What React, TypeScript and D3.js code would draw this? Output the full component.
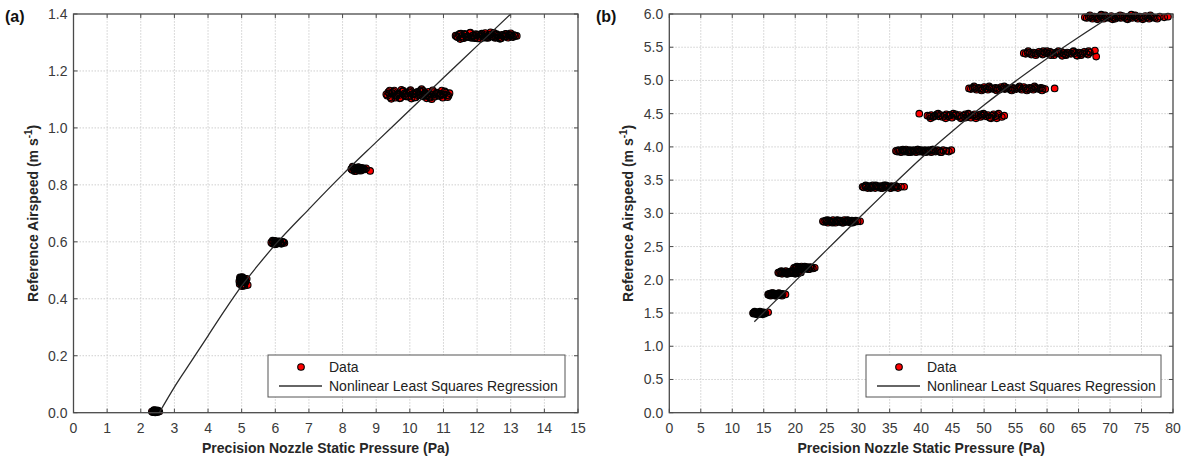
import React from "react";
import * as d3 from "d3";

const FONT = "'Liberation Sans', Arial, Helvetica, sans-serif";

// ---------- Panel (a) ----------
const aXTicks = [0, 1, 2, 3, 4, 5, 6, 7, 8, 9, 10, 11, 12, 13, 14, 15];
const aYTicks = [0, 0.2, 0.4, 0.6, 0.8, 1.0, 1.2, 1.4];

const a1X = [2.33, 2.36, 2.38, 2.40, 2.42, 2.44, 2.46, 2.48, 2.50, 2.52, 2.39, 2.43, 2.47, 2.45, 2.55];
const a1Y = [0.004, 0.002, 0.006, 0.003, 0.008, 0.004, 0.006, 0.002, 0.005, 0.007, 0.009, 0.001, 0.008, 0.005, 0.004];
const a2X = [4.93, 4.95, 4.97, 4.99, 5.01, 5.03, 5.05, 5.07, 5.09, 4.94, 4.98, 5.02, 5.06, 5.10, 4.96, 5.00, 5.04, 5.08, 5.12, 4.95, 5.01, 5.05, 5.11, 5.18, 5.15];
const a2Y = [0.462, 0.470, 0.455, 0.474, 0.460, 0.448, 0.466, 0.472, 0.458, 0.452, 0.465, 0.476, 0.450, 0.462, 0.468, 0.456, 0.470, 0.446, 0.460, 0.475, 0.444, 0.458, 0.466, 0.448, 0.470];
const a3X = [5.88, 5.91, 5.94, 5.97, 6.00, 6.03, 6.06, 6.09, 6.12, 6.15, 6.18, 6.21, 5.92, 5.98, 6.04, 6.10, 6.16, 6.24, 6.27, 6.01];
const a3Y = [0.598, 0.594, 0.601, 0.596, 0.603, 0.592, 0.599, 0.595, 0.602, 0.597, 0.593, 0.600, 0.604, 0.591, 0.597, 0.601, 0.595, 0.599, 0.596, 0.593];
const a4X = [8.26, 8.29, 8.32, 8.35, 8.38, 8.41, 8.44, 8.47, 8.50, 8.53, 8.56, 8.59, 8.62, 8.30, 8.36, 8.42, 8.48, 8.54, 8.60, 8.66, 8.34, 8.46, 8.58, 8.70, 8.82];
const a4Y = [0.856, 0.852, 0.860, 0.854, 0.858, 0.849, 0.857, 0.862, 0.851, 0.856, 0.860, 0.853, 0.858, 0.864, 0.848, 0.855, 0.861, 0.850, 0.857, 0.854, 0.859, 0.853, 0.856, 0.858, 0.849];
const a5X = [9.30, 9.36, 9.42, 9.48, 9.54, 9.60, 9.66, 9.72, 9.78, 9.84, 9.90, 9.96, 10.02, 10.08, 10.14, 10.20, 10.26, 10.32, 10.38, 10.44, 10.50, 10.56, 10.62, 10.68, 10.74, 10.80, 10.86, 10.92, 10.98, 11.04, 11.10, 11.18, 9.45, 9.75, 10.05, 10.35, 10.65, 10.95, 9.62, 9.92, 10.22, 10.52, 10.82, 11.12, 10.40];
const a5Y = [1.118, 1.126, 1.108, 1.122, 1.131, 1.112, 1.120, 1.105, 1.128, 1.116, 1.123, 1.110, 1.133, 1.119, 1.107, 1.125, 1.114, 1.129, 1.111, 1.121, 1.104, 1.127, 1.117, 1.132, 1.109, 1.124, 1.113, 1.120, 1.106, 1.128, 1.115, 1.122, 1.102, 1.134, 1.103, 1.136, 1.101, 1.131, 1.118, 1.110, 1.126, 1.114, 1.121, 1.108, 1.130];
const a5bX = [9.33, 9.39, 9.51, 9.57, 9.69, 9.81, 9.87, 9.99, 10.11, 10.17, 10.29, 10.41, 10.47, 10.59, 10.71, 10.77, 10.89, 11.01, 11.07, 11.15, 9.40, 9.70, 10.00, 10.30, 10.60, 10.90, 9.55, 9.85, 10.15, 10.45];
const a5bY = [1.113, 1.121, 1.127, 1.106, 1.116, 1.130, 1.111, 1.124, 1.118, 1.107, 1.129, 1.115, 1.122, 1.109, 1.126, 1.119, 1.112, 1.117, 1.124, 1.113, 1.131, 1.104, 1.129, 1.116, 1.106, 1.118, 1.115, 1.122, 1.120, 1.112];
const a6X = [11.36, 11.42, 11.48, 11.54, 11.60, 11.66, 11.72, 11.78, 11.84, 11.90, 11.96, 12.02, 12.08, 12.14, 12.20, 12.26, 12.32, 12.38, 12.44, 12.50, 12.56, 12.62, 12.68, 12.74, 12.80, 12.86, 12.92, 12.98, 13.04, 13.10, 13.18, 11.50, 11.80, 12.10, 12.40, 12.70, 13.00, 11.64, 11.94, 12.24, 12.54, 12.84, 11.70, 12.30, 12.60];
const a6Y = [1.324, 1.318, 1.330, 1.322, 1.315, 1.327, 1.320, 1.333, 1.317, 1.325, 1.329, 1.314, 1.323, 1.331, 1.319, 1.326, 1.316, 1.328, 1.321, 1.334, 1.318, 1.324, 1.313, 1.327, 1.322, 1.330, 1.317, 1.325, 1.320, 1.326, 1.323, 1.312, 1.335, 1.313, 1.336, 1.314, 1.332, 1.328, 1.319, 1.333, 1.316, 1.329, 1.321, 1.318, 1.327];
const a6bX = [11.39, 11.45, 11.57, 11.63, 11.75, 11.87, 11.93, 12.05, 12.17, 12.23, 12.35, 12.47, 12.53, 12.65, 12.77, 12.83, 12.95, 13.07, 13.13, 11.52, 11.82, 12.12, 12.42, 12.72, 13.02, 11.68, 11.98, 12.28, 12.58, 12.88];
const a6bY = [1.321, 1.327, 1.316, 1.330, 1.319, 1.324, 1.315, 1.328, 1.322, 1.317, 1.326, 1.320, 1.329, 1.318, 1.325, 1.321, 1.327, 1.319, 1.323, 1.331, 1.317, 1.328, 1.322, 1.316, 1.325, 1.320, 1.326, 1.318, 1.329, 1.321];

// regression curve (a)
const aFitX = [2.55, 3.0, 3.5, 4.0, 4.5, 5.0, 5.5, 6.0, 7.0, 8.0, 9.0, 10.0, 11.0, 12.0, 13.0];
const aFitY = [0.0, 0.09, 0.18, 0.27, 0.36, 0.445, 0.52, 0.59, 0.715, 0.836, 0.95, 1.063, 1.176, 1.288, 1.4];

// ---------- Panel (b) ----------
const bXTicks = [0, 5, 10, 15, 20, 25, 30, 35, 40, 45, 50, 55, 60, 65, 70, 75, 80];
const bYTicks = [0, 0.5, 1.0, 1.5, 2.0, 2.5, 3.0, 3.5, 4.0, 4.5, 5.0, 5.5, 6.0];

const b1X = [13.3, 13.4, 13.5, 13.6, 13.7, 13.8, 13.9, 14.0, 14.1, 14.2, 14.3, 14.4, 14.5, 14.6, 14.7, 14.8, 14.9, 15.0, 15.1, 13.55, 13.95, 14.35, 14.75, 15.25, 15.7];
const b1Y = [1.50, 1.49, 1.51, 1.50, 1.49, 1.51, 1.50, 1.48, 1.51, 1.49, 1.50, 1.52, 1.49, 1.50, 1.51, 1.48, 1.50, 1.51, 1.49, 1.52, 1.48, 1.51, 1.49, 1.50, 1.51];
const b2X = [15.7, 15.8, 15.9, 16.0, 16.1, 16.2, 16.3, 16.4, 16.5, 16.6, 16.7, 16.8, 16.9, 17.0, 17.1, 17.2, 17.3, 17.4, 17.5, 17.6, 17.7, 17.8, 17.9, 18.0, 16.25, 16.85, 17.45, 18.45];
const b2Y = [1.78, 1.77, 1.79, 1.78, 1.76, 1.79, 1.78, 1.77, 1.80, 1.78, 1.77, 1.79, 1.78, 1.76, 1.79, 1.78, 1.77, 1.80, 1.78, 1.77, 1.79, 1.78, 1.76, 1.79, 1.80, 1.76, 1.78, 1.78];
const b3X = [17.3, 17.45, 17.6, 17.75, 17.9, 18.05, 18.2, 18.35, 18.5, 18.65, 18.8, 18.95, 19.1, 19.25, 19.4, 19.55, 19.7, 19.85, 20.0, 20.15, 20.3, 20.5, 20.7, 17.8, 18.6, 19.3, 20.1, 20.9];
const b3Y = [2.11, 2.10, 2.12, 2.11, 2.09, 2.12, 2.11, 2.10, 2.13, 2.11, 2.09, 2.12, 2.10, 2.11, 2.13, 2.10, 2.12, 2.11, 2.09, 2.12, 2.11, 2.10, 2.12, 2.13, 2.09, 2.12, 2.10, 2.11];
const b4X = [19.8, 19.95, 20.1, 20.25, 20.4, 20.55, 20.7, 20.85, 21.0, 21.15, 21.3, 21.45, 21.6, 21.75, 21.9, 22.05, 22.2, 22.4, 22.6, 22.8, 20.3, 20.9, 21.5, 22.1, 23.1];
const b4Y = [2.18, 2.17, 2.19, 2.18, 2.16, 2.19, 2.18, 2.17, 2.20, 2.18, 2.16, 2.19, 2.18, 2.17, 2.19, 2.18, 2.16, 2.19, 2.18, 2.17, 2.20, 2.16, 2.20, 2.16, 2.18];
const b5X = [24.4, 24.6, 24.8, 25.0, 25.2, 25.4, 25.6, 25.8, 26.0, 26.2, 26.4, 26.6, 26.8, 27.0, 27.2, 27.4, 27.6, 27.8, 28.0, 28.2, 28.4, 28.6, 28.8, 29.0, 29.2, 29.4, 29.6, 25.1, 25.9, 26.7, 27.5, 28.3, 29.1, 29.9, 30.3];
const b5Y = [2.88, 2.87, 2.89, 2.88, 2.86, 2.89, 2.88, 2.87, 2.90, 2.88, 2.86, 2.89, 2.88, 2.87, 2.89, 2.88, 2.86, 2.90, 2.88, 2.87, 2.89, 2.88, 2.86, 2.89, 2.88, 2.87, 2.89, 2.90, 2.86, 2.90, 2.86, 2.90, 2.86, 2.88, 2.88];
const b6X = [30.7, 30.9, 31.1, 31.3, 31.5, 31.7, 31.9, 32.1, 32.3, 32.5, 32.7, 32.9, 33.1, 33.3, 33.5, 33.7, 33.9, 34.1, 34.3, 34.5, 34.7, 34.9, 35.1, 35.3, 35.5, 35.7, 35.9, 36.1, 36.3, 31.2, 32.0, 32.8, 33.6, 34.4, 35.2, 36.0, 36.8, 37.3];
const b6Y = [3.40, 3.39, 3.41, 3.40, 3.38, 3.41, 3.40, 3.39, 3.42, 3.40, 3.38, 3.41, 3.40, 3.39, 3.41, 3.40, 3.38, 3.42, 3.40, 3.39, 3.41, 3.40, 3.38, 3.41, 3.40, 3.39, 3.41, 3.40, 3.38, 3.42, 3.38, 3.42, 3.38, 3.42, 3.38, 3.41, 3.40, 3.40];
const b7X = [36.0, 36.2, 36.4, 36.6, 36.8, 37.0, 37.2, 37.4, 37.6, 37.8, 38.0, 38.2, 38.4, 38.6, 38.8, 39.0, 39.2, 39.4, 39.6, 39.8, 40.0, 40.2, 40.4, 40.6, 40.8, 41.0, 41.2, 41.4, 41.6, 41.8, 42.0, 42.3, 42.6, 42.9, 43.2, 43.5, 37.1, 38.3, 39.5, 40.7, 41.9, 43.1, 44.0, 44.4, 44.8];
const b7Y = [3.94, 3.93, 3.95, 3.94, 3.92, 3.95, 3.94, 3.93, 3.96, 3.94, 3.92, 3.95, 3.94, 3.93, 3.95, 3.94, 3.92, 3.96, 3.94, 3.93, 3.95, 3.94, 3.92, 3.95, 3.94, 3.93, 3.95, 3.94, 3.92, 3.96, 3.94, 3.93, 3.95, 3.94, 3.92, 3.95, 3.96, 3.92, 3.96, 3.92, 3.96, 3.92, 3.94, 3.93, 3.95];
const b8X = [39.7, 41.0, 41.3, 41.6, 41.9, 42.2, 42.5, 42.8, 43.1, 43.4, 43.7, 44.0, 44.3, 44.6, 44.9, 45.2, 45.5, 45.8, 46.1, 46.4, 46.7, 47.0, 47.3, 47.6, 47.9, 48.2, 48.5, 48.8, 49.1, 49.4, 49.7, 50.0, 50.3, 50.6, 50.9, 51.2, 51.5, 51.8, 52.1, 41.5, 42.7, 43.9, 45.1, 46.3, 47.5, 48.7, 49.9, 51.1, 52.3, 52.8, 53.2, 42.0, 44.5, 47.0, 49.5, 52.0];
const b8Y = [4.50, 4.47, 4.46, 4.48, 4.45, 4.47, 4.49, 4.46, 4.48, 4.45, 4.47, 4.49, 4.46, 4.48, 4.44, 4.47, 4.49, 4.46, 4.48, 4.45, 4.47, 4.49, 4.46, 4.48, 4.44, 4.47, 4.49, 4.46, 4.48, 4.45, 4.47, 4.49, 4.46, 4.48, 4.44, 4.47, 4.49, 4.46, 4.48, 4.43, 4.50, 4.43, 4.50, 4.43, 4.50, 4.43, 4.50, 4.43, 4.50, 4.45, 4.47, 4.46, 4.48, 4.44, 4.49, 4.43];
const b9X = [47.6, 47.9, 48.2, 48.5, 48.8, 49.1, 49.4, 49.7, 50.0, 50.3, 50.6, 50.9, 51.2, 51.5, 51.8, 52.1, 52.4, 52.7, 53.0, 53.3, 53.6, 53.9, 54.2, 54.5, 54.8, 55.1, 55.4, 55.7, 56.0, 56.3, 56.6, 56.9, 57.2, 57.5, 57.8, 58.1, 58.4, 58.7, 59.0, 59.3, 59.7, 48.4, 49.6, 50.8, 52.0, 53.2, 54.4, 55.6, 56.8, 58.0, 59.2, 61.2];
const b9Y = [4.88, 4.87, 4.89, 4.88, 4.86, 4.89, 4.88, 4.87, 4.90, 4.88, 4.86, 4.89, 4.88, 4.87, 4.89, 4.88, 4.86, 4.90, 4.88, 4.87, 4.89, 4.88, 4.86, 4.89, 4.88, 4.87, 4.89, 4.88, 4.86, 4.90, 4.88, 4.87, 4.89, 4.88, 4.86, 4.89, 4.88, 4.87, 4.89, 4.88, 4.87, 4.91, 4.85, 4.91, 4.85, 4.91, 4.85, 4.91, 4.85, 4.91, 4.85, 4.88];
const b10X = [56.3, 56.6, 56.9, 57.2, 57.5, 57.8, 58.1, 58.4, 58.7, 59.0, 59.3, 59.6, 59.9, 60.2, 60.5, 60.8, 61.1, 61.4, 61.7, 62.0, 62.3, 62.6, 62.9, 63.2, 63.5, 63.8, 64.1, 64.4, 64.7, 65.0, 65.3, 65.6, 65.9, 66.2, 66.5, 66.8, 57.0, 58.2, 59.4, 60.6, 61.8, 63.0, 64.2, 65.4, 66.6, 67.6, 67.8, 62.4, 64.8, 60.0];
const b10Y = [5.41, 5.40, 5.42, 5.41, 5.39, 5.42, 5.41, 5.40, 5.43, 5.41, 5.39, 5.42, 5.41, 5.40, 5.43, 5.41, 5.38, 5.42, 5.41, 5.40, 5.43, 5.41, 5.39, 5.42, 5.41, 5.40, 5.43, 5.41, 5.38, 5.42, 5.41, 5.40, 5.43, 5.41, 5.39, 5.42, 5.44, 5.38, 5.44, 5.38, 5.44, 5.38, 5.44, 5.38, 5.44, 5.45, 5.36, 5.37, 5.37, 5.44];
const b11X = [66.0, 66.3, 66.6, 66.9, 67.2, 67.5, 67.8, 68.1, 68.4, 68.7, 69.0, 69.3, 69.6, 69.9, 70.2, 70.5, 70.8, 71.1, 71.4, 71.7, 72.0, 72.3, 72.6, 72.9, 73.2, 73.5, 73.8, 74.1, 74.4, 74.7, 75.0, 75.3, 75.6, 75.9, 76.2, 76.5, 76.8, 77.1, 66.8, 68.0, 69.2, 70.4, 71.6, 72.8, 74.0, 75.2, 76.4, 77.5, 77.9, 78.6, 79.2, 68.6, 73.4];
const b11Y = [5.95, 5.94, 5.96, 5.95, 5.93, 5.96, 5.95, 5.94, 5.97, 5.95, 5.93, 5.96, 5.95, 5.94, 5.97, 5.95, 5.93, 5.96, 5.95, 5.94, 5.97, 5.95, 5.93, 5.96, 5.95, 5.94, 5.97, 5.95, 5.93, 5.96, 5.95, 5.94, 5.97, 5.95, 5.93, 5.96, 5.95, 5.94, 5.98, 5.92, 5.98, 5.92, 5.98, 5.92, 5.98, 5.92, 5.98, 5.93, 5.96, 5.95, 5.96, 5.99, 5.99];

// regression curve (b)
const bFitX = [13.5, 15, 18, 20, 25, 30, 35, 40, 45, 50, 55, 60, 65, 70.7];
const bFitY = [1.37, 1.51, 1.79, 1.98, 2.45, 2.92, 3.38, 3.83, 4.24, 4.63, 4.99, 5.33, 5.65, 6.0];

const legendLabels = ["Data", "Nonlinear Least Squares Regression"];
const xTitle = "Precision Nozzle Static Pressure (Pa)";

type Cl = [number[], number[]];

function zip(c: Cl): [number, number][] {
  const n = Math.min(c[0].length, c[1].length);
  const out: [number, number][] = [];
  for (let i = 0; i < n; i++) out.push([c[0][i], c[1][i]]);
  return out;
}

type PanelProps = {
  id: string;
  tag: string;
  tagX: number;
  xDomain: [number, number];
  yDomain: [number, number];
  xRange: [number, number];
  yRange: [number, number];
  xTicks: number[];
  yTicks: number[];
  clusters: Cl[];
  fit: Cl;
  legendX: number;
  legendW: number;
};

const AX = "#4a4a4a";
const TXT = "#3a3a3a";
const R = 3.3;

function Panel(p: PanelProps) {
  const x = d3.scaleLinear().domain(p.xDomain).range(p.xRange);
  const y = d3.scaleLinear().domain(p.yDomain).range(p.yRange);
  const [x0, x1] = p.xRange;
  const [yb, yt] = p.yRange;
  const line = d3
    .line<[number, number]>()
    .x((d) => x(d[0]))
    .y((d) => y(d[1]))
    .curve(d3.curveMonotoneX);
  const pts = p.clusters.flatMap(zip);
  const tl = 4;
  const cx = (x0 + x1) / 2;
  const cy = (yb + yt) / 2;
  const lx = p.legendX;
  const ly = 355;
  return (
    <g>
      <defs>
        <clipPath id={p.id}>
          <rect x={x0} y={yt} width={x1 - x0} height={yb - yt} />
        </clipPath>
      </defs>
      <rect x={x0} y={yt} width={x1 - x0} height={yb - yt} fill="#fff" />
      {/* grid */}
      {p.xTicks.slice(1, -1).map((t) => (
        <line key={"gx" + t} x1={x(t)} x2={x(t)} y1={yb} y2={yt} stroke="#cfcfcf" strokeWidth={1} strokeDasharray="1.5,1.5" />
      ))}
      {p.yTicks.slice(1, -1).map((t) => (
        <line key={"gy" + t} x1={x0} x2={x1} y1={y(t)} y2={y(t)} stroke="#cfcfcf" strokeWidth={1} strokeDasharray="1.5,1.5" />
      ))}
      {/* ticks */}
      {p.xTicks.map((t) => (
        <g key={"tx" + t}>
          <line x1={x(t)} x2={x(t)} y1={yb} y2={yb - tl} stroke={AX} strokeWidth={1} />
          <line x1={x(t)} x2={x(t)} y1={yt} y2={yt + tl} stroke={AX} strokeWidth={1} />
          <text x={x(t)} y={yb + 20} textAnchor="middle" fontSize={14} fill={TXT} fontFamily={FONT}>
            {t}
          </text>
        </g>
      ))}
      {p.yTicks.map((t) => (
        <g key={"ty" + t}>
          <line x1={x0} x2={x0 + tl} y1={y(t)} y2={y(t)} stroke={AX} strokeWidth={1} />
          <line x1={x1} x2={x1 - tl} y1={y(t)} y2={y(t)} stroke={AX} strokeWidth={1} />
          <text x={x0 - 6} y={y(t) + 5} textAnchor="end" fontSize={14} fill={TXT} fontFamily={FONT}>
            {t.toFixed(1)}
          </text>
        </g>
      ))}
      {/* data: faces first, then edges */}
      <g fill="#ff0000" stroke="none">
        {pts.map((d, i) => (
          <circle key={"f" + i} cx={x(d[0])} cy={y(d[1])} r={R} />
        ))}
      </g>
      <g fill="none" stroke="#000" strokeWidth={1.1}>
        {pts.map((d, i) => (
          <circle key={"e" + i} cx={x(d[0])} cy={y(d[1])} r={R} />
        ))}
      </g>
      {/* regression line */}
      <path d={line(zip(p.fit)) || ""} fill="none" stroke="#2b2b2b" strokeWidth={1.3} clipPath={`url(#${p.id})`} />
      {/* box */}
      <rect x={x0} y={yt} width={x1 - x0} height={yb - yt} fill="none" stroke={AX} strokeWidth={1.3} />
      {/* legend */}
      <rect x={lx} y={ly} width={p.legendW} height={42} fill="#fff" stroke="#555" strokeWidth={1} />
      <circle cx={lx + 33} cy={ly + 12} r={R} fill="#ff0000" stroke="#000" strokeWidth={1.1} />
      <text x={lx + 61} y={ly + 17} fontSize={14} fill="#222" fontFamily={FONT}>
        {legendLabels[0]}
      </text>
      <line x1={lx + 11} x2={lx + 54} y1={ly + 31} y2={ly + 31} stroke="#333" strokeWidth={1.3} />
      <text x={lx + 61} y={ly + 36} fontSize={14} fill="#222" fontFamily={FONT}>
        {legendLabels[1]}
      </text>
      {/* axis titles */}
      <text x={cx} y={yb + 40} textAnchor="middle" fontSize={14} fontWeight="bold" fill="#262626" fontFamily={FONT}>
        {xTitle}
      </text>
      <text
        transform={`translate(${x0 - 36},${cy}) rotate(-90)`}
        textAnchor="middle"
        fontSize={14}
        fontWeight="bold"
        fill="#262626"
        fontFamily={FONT}
      >
        Reference Airspeed (m s<tspan dy={-6} fontSize={10}>-1</tspan>
        <tspan dy={6}>)</tspan>
      </text>
      <text x={p.tagX} y={22} fontSize={16} fontWeight="bold" fill="#111" fontFamily={FONT}>
        {p.tag}
      </text>
    </g>
  );
}

export default function App() {
  return (
    <svg width={1186} height={459} style={{ position: "absolute", left: 0, top: 0, background: "#fff" }}>
      <rect width={1186} height={459} fill="#fff" />
      <Panel
        id="clipA"
        tag="(a)"
        tagX={5}
        xDomain={[0, 15]}
        yDomain={[0, 1.4]}
        xRange={[73.5, 578]}
        yRange={[412.7, 14]}
        xTicks={aXTicks}
        yTicks={aYTicks}
        clusters={[
          [a1X, a1Y],
          [a2X, a2Y],
          [a3X, a3Y],
          [a4X, a4Y],
          [a5X, a5Y],
          [a5bX, a5bY],
          [a6X, a6Y],
          [a6bX, a6bY],
        ]}
        fit={[aFitX, aFitY]}
        legendX={268}
        legendW={297}
      />
      <Panel
        id="clipB"
        tag="(b)"
        tagX={596}
        xDomain={[0, 80]}
        yDomain={[0, 6]}
        xRange={[669.3, 1173]}
        yRange={[412.7, 14]}
        xTicks={bXTicks}
        yTicks={bYTicks}
        clusters={[
          [b1X, b1Y],
          [b2X, b2Y],
          [b3X, b3Y],
          [b4X, b4Y],
          [b5X, b5Y],
          [b6X, b6Y],
          [b7X, b7Y],
          [b8X, b8Y],
          [b9X, b9Y],
          [b10X, b10Y],
          [b11X, b11Y],
        ]}
        fit={[bFitX, bFitY]}
        legendX={866}
        legendW={295}
      />
    </svg>
  );
}
